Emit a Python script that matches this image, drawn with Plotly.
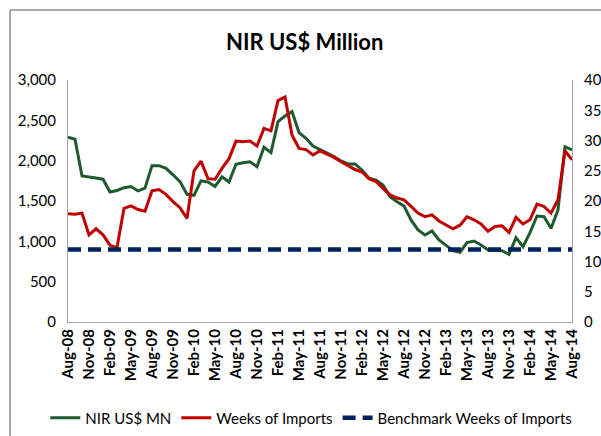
#!/usr/bin/env python3
"""
NIR (US$ million) against weeks of import cover, Aug-08 to Aug-14,
with the 12-week benchmark on the secondary axis.
"""

import pandas as pd
import plotly.graph_objects as go

# monthly categories, Aug-08 .. Aug-14
months = [d.strftime('%b-%y') for d in pd.date_range('2008-08-01', '2014-08-01', freq='MS')]
tick_labels = months[::3]

# net international reserves, US$ million (left axis)
nir_usd_mn = [
    2290, 2265, 1810, 1800, 1785, 1770, 1612, 1630, 1665, 1680, 1625, 1660,
    1938, 1938, 1905, 1825, 1740, 1583, 1570, 1750, 1735, 1680, 1800, 1735,
    1955, 1975, 1987, 1925, 2166, 2100, 2484, 2554, 2608, 2348, 2278, 2182,
    2141, 2100, 2050, 1996, 1959, 1959, 1885, 1781, 1760, 1699, 1554, 1492,
    1438, 1265, 1141, 1079, 1128, 1017, 946, 884, 864, 984, 1004, 955,
    893, 893, 884, 839, 1046, 934, 1108, 1314, 1305, 1161, 1389, 2174,
    2133,
]

# weeks of imports (right axis)
weeks_of_imports = [
    17.9, 17.8, 18.0, 14.4, 15.4, 14.4, 12.7, 12.3, 18.8, 19.2, 18.6, 18.3,
    21.7, 21.9, 21.1, 19.9, 18.9, 17.1, 25.0, 26.6, 23.7, 23.6, 25.4, 27.0,
    29.9, 29.8, 29.9, 29.1, 32.0, 31.6, 36.6, 37.2, 30.9, 28.7, 28.5, 27.6,
    28.3, 27.8, 27.2, 26.5, 25.8, 25.2, 24.8, 23.7, 23.2, 22.1, 21.0, 20.5,
    20.2, 19.1, 18.0, 17.4, 17.7, 16.7, 16.0, 15.4, 16.0, 17.4, 16.9, 16.2,
    15.0, 15.8, 15.9, 14.8, 17.3, 16.2, 16.9, 19.5, 19.1, 18.0, 20.2, 28.3,
    26.8,
]

benchmark_weeks = [12] * len(months)

FONT = 'Lato'
AXIS_GREY = '#A6A6A6'

fig = go.Figure()
fig.add_trace(go.Scatter(
    x=months, y=nir_usd_mn, mode='lines', name='NIR US$ MN',
    line=dict(color='#1D5B2F', width=3),
))
fig.add_trace(go.Scatter(
    x=months, y=weeks_of_imports, mode='lines', name='Weeks of Imports',
    line=dict(color='#C00000', width=3), yaxis='y2',
))
fig.add_trace(go.Scatter(
    x=months, y=benchmark_weeks, mode='lines', name='Benchmark Weeks of Imports',
    line=dict(color='#002060', width=4.5, dash='13px,7px'), yaxis='y2',
))

fig.update_layout(
    width=601, height=436,
    margin=dict(l=68, r=29, t=80, b=114, autoexpand=False),
    paper_bgcolor='white', plot_bgcolor='white',
    font=dict(family=FONT, size=15, color='#000000'),
    title=dict(text='<b>NIR US$ Million</b>', x=0.507, xanchor='center',
               y=0.904, yanchor='middle', font=dict(size=22, family=FONT)),
    showlegend=True,
    legend=dict(orientation='h', x=-0.045, xanchor='left', y=-0.397,
                yanchor='middle', font=dict(size=15), tracegroupgap=0),
    xaxis=dict(
        type='category', categoryorder='array', categoryarray=months,
        range=[0, len(months) - 1], automargin=False,
        tickmode='array', tickvals=tick_labels,
        ticktext=[f'<b>{t}</b>' for t in tick_labels],
        tickangle=-90, tickfont=dict(size=15),
        showgrid=False, showline=True, linecolor=AXIS_GREY, linewidth=1,
        ticks='', zeroline=False,
    ),
    yaxis=dict(
        range=[0, 3000], dtick=500, tickformat=',', automargin=False,
        showgrid=False, showline=True, linecolor=AXIS_GREY, linewidth=1,
        ticks='', zeroline=False, ticklabelstandoff=8,
    ),
    yaxis2=dict(
        range=[0, 40], dtick=5, overlaying='y', side='right', automargin=False,
        showgrid=False, showline=True, linecolor=AXIS_GREY, linewidth=1,
        ticks='', zeroline=False, ticklabelstandoff=8,
    ),
    shapes=[
        # chart frame (top and left edges visible in the crop)
        dict(type='line', xref='paper', yref='paper',
             x0=-0.115, x1=1.1, y0=1.289, y1=1.289,
             line=dict(color='#8C8C8C', width=1.5)),
        dict(type='line', xref='paper', yref='paper',
             x0=-0.115, x1=-0.115, y0=-0.5, y1=1.289,
             line=dict(color='#8C8C8C', width=1.5)),
    ],
)

# the page's default body margin would push the figure 8px down and right
fig.write_html('out.html', config={'displayModeBar': False},
               post_script="document.body.style.margin = '0';")
